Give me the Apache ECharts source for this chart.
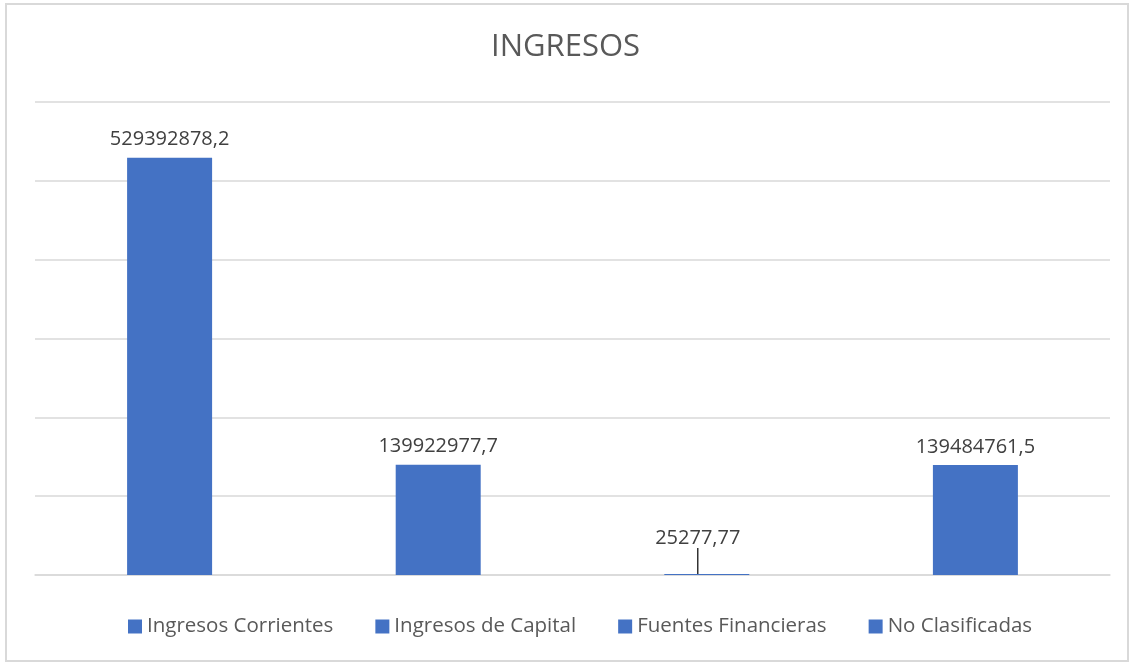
<!DOCTYPE html>
<html>
<head>
<meta charset="utf-8">
<script src="https://cdn.jsdelivr.net/npm/echarts@6/dist/echarts.min.js"></script>
<style>
  html, body { margin: 0; padding: 0; background: #fff; }
  #chart { width: 1131px; height: 664px; }
  #frame { position: absolute; left: 5px; top: 3px; width: 1120px; height: 655px; border: 2px solid #d9d9d9; pointer-events: none; }
</style>
</head>
<body>
<div id="chart"></div>
<div id="frame"></div>
<script>
// datos
var seriesNames = ['Ingresos Corrientes', 'Ingresos de Capital', 'Fuentes Financieras', 'No Clasificadas'];
var seriesValues = [529392878.2, 139922977.7, 25277.77, 139484761.5];
var yMax = 600000000;
var yStep = 100000000;

var chart = echarts.init(document.getElementById('chart'));

function fmt(p) {
    return String(p.value).replace('.', ',');
}

var series = seriesNames.map(function (name, i) {
    var s = {
        name: name,
        type: 'bar',
        data: [seriesValues[i]],
        barWidth: 85,
        barGap: '216%',
        barMinHeight: 1,
        itemStyle: { color: '#4472C4' },
        label: {
            show: true,
            position: 'top',
            distance: 8,
            formatter: fmt,
            color: '#404040',
            fontFamily: 'Open Sans',
            fontSize: 20
        }
    };
    if (seriesValues[i] < yMax / 100) {
        // etiqueta desplazada con línea guía
        s.labelLayout = { dy: -18, dx: -9 };
        s.labelLine = { show: true, lineStyle: { color: '#000', width: 1.2 } };
    }
    return s;
});

var option = {
    animation: false,
    title: {
        text: 'INGRESOS',
        left: 'center',
        top: 27,
        textStyle: {
            color: '#595959',
            fontFamily: 'Open Sans',
            fontWeight: 'normal',
            fontSize: 31
        }
    },
    legend: {
        bottom: 22,
        left: 123,
        icon: 'rect',
        itemWidth: 14,
        itemHeight: 14,
        itemGap: 42,
        textStyle: {
            color: '#595959',
            fontFamily: 'Open Sans',
            fontSize: 20.5
        },
        data: seriesNames
    },
    grid: {
        left: 35,
        right: 21,
        top: 102,
        bottom: 89
    },
    xAxis: {
        type: 'category',
        data: [''],
        axisTick: { show: false },
        axisLabel: { show: false },
        axisLine: { lineStyle: { color: '#d9d9d9', width: 1.5 } }
    },
    yAxis: {
        type: 'value',
        min: 0,
        max: yMax,
        interval: yStep,
        axisLabel: { show: false },
        axisLine: { show: false },
        axisTick: { show: false },
        splitLine: { lineStyle: { color: '#d9d9d9', width: 1.5 } }
    },
    series: series
};

chart.setOption(option);
</script>
</body>
</html>
